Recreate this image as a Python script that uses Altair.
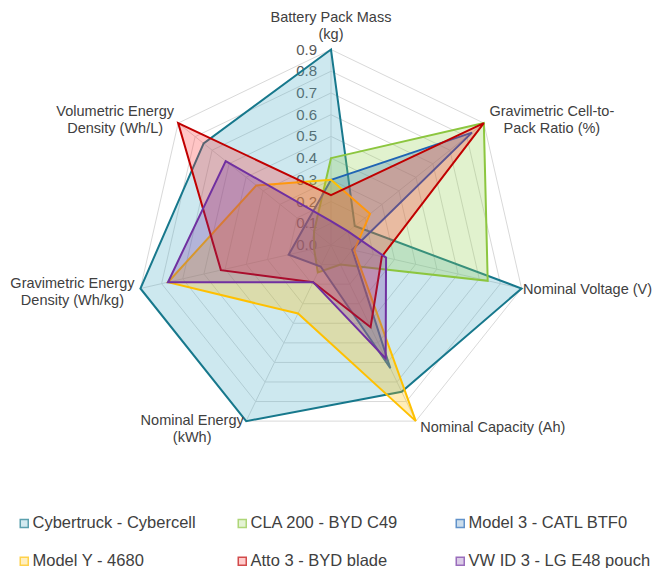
import altair as alt
import pandas as pd

# ---------------- data ----------------
axis_labels = [
    "Battery Pack Mass\n(kg)",
    "Gravimetric Cell-to-\nPack Ratio (%)",
    "Nominal Voltage (V)",
    "Nominal Capacity (Ah)",
    "Nominal Energy\n(kWh)",
    "Gravimetric Energy\nDensity (Wh/kg)",
    "Volumetric Energy\nDensity (Wh/L)",
]
series = [
    "Cybertruck - Cybercell",
    "CLA 200 - BYD C49",
    "Model 3 - CATL BTF0",
    "Model Y - 4680",
    "Atto 3 - BYD blade",
    "VW ID 3 - LG E48 pouch",
]
cybertruck = [0.90, 0.14, 0.90, 0.75, 0.90, 0.90, 0.75]
cla200 = [0.40, 0.90, 0.74, 0.10, 0.14, 0.08, 0.10]
model3 = [0.30, 0.83, 0.10, 0.63, 0.11, 0.20, 0.15]
modely = [0.30, 0.23, 0.11, 0.90, 0.35, 0.77, 0.44]
atto3 = [0.23, 0.90, 0.24, 0.42, 0.19, 0.52, 0.90]
vwid3 = [0.11, 0.10, 0.26, 0.58, 0.19, 0.77, 0.62]
ticks = [0.0, 0.1, 0.2, 0.3, 0.4, 0.5, 0.6, 0.7, 0.8, 0.9]

line_colors = ["#17788C", "#8CC63F", "#1F64B4", "#FFC000", "#C00000", "#7030A0"]
fill_colors = ["#4BACC6", "#92D050", "#2E75B6", "#FFC000", "#FF3030", "#7030A0"]
legend_fills = ["#C0E2EB", "#D9EFC2", "#B6CFE5", "#FFE9A6", "#FFB7B7", "#CDB7DE"]

# ---------------- tables ----------------
values = [cybertruck, cla200, model3, modely, atto3, vwid3]
n_axes = len(axis_labels)
rmax = max(ticks)

poly = pd.DataFrame(
    [{"series": s, "sidx": k, "idx": i, "value": v}
     for k, (s, vals) in enumerate(zip(series, values))
     for i, v in enumerate(vals)]
)
rings = pd.DataFrame(
    [{"ring": t, "idx": i} for t in ticks[1:] for i in range(n_axes)]
)
spokes = pd.DataFrame([{"idx": i, "label": lab} for i, lab in enumerate(axis_labels)])
tick_df = pd.DataFrame({"t": ticks})
legend_df = pd.DataFrame({"series": series})

# ---------------- layout ----------------
W, H = 645, 560
cx, cy = 323, 237          # centre in plot pixels
unit = 217.2               # pixels per 1.0
xs = alt.Scale(domain=[-cx / unit, (W - cx) / unit], nice=False, zero=False)
ys = alt.Scale(domain=[-(H - cy) / unit, cy / unit], nice=False, zero=False)
FONT = "Liberation Sans"
STEP = f"2*PI/{n_axes}"


def polar(chart, rfield):
    return chart.transform_calculate(
        theta=f"datum.idx*{STEP}"
    ).transform_calculate(
        x=f"{rfield}*sin(datum.theta)", y=f"{rfield}*cos(datum.theta)"
    )


X = alt.X("x:Q", scale=xs, axis=None)
Y = alt.Y("y:Q", scale=ys, axis=None)

grid = polar(alt.Chart(rings), "datum.ring").mark_line(
    interpolate="linear-closed", stroke="#D9D9D9", strokeWidth=1, fill=None
).encode(x=X, y=Y, detail="ring:N", order="idx:Q")

spoke = polar(alt.Chart(spokes), str(rmax)).transform_calculate(
    x0="0", y0="0"
).mark_rule(stroke="#D9D9D9", strokeWidth=1).encode(
    x=alt.X("x0:Q", scale=xs, axis=None), y=alt.Y("y0:Q", scale=ys, axis=None),
    x2="x:Q", y2="y:Q"
)

tick_text = alt.Chart(tick_df).transform_calculate(x0="0").mark_text(
    align="right", baseline="middle", dx=-14, font=FONT, fontSize=15, color="#595959"
).encode(
    x=alt.X("x0:Q", scale=xs, axis=None), y=alt.Y("t:Q", scale=ys, axis=None),
    text=alt.Text("t:Q", format=".1f")
)

polys = polar(alt.Chart(poly), "datum.value").mark_line(
    interpolate="linear-closed", strokeWidth=2, fillOpacity=0.28
).encode(
    x=X, y=Y,
    stroke=alt.Stroke("series:N", scale=alt.Scale(domain=series, range=line_colors),
                      legend=None),
    fill=alt.Fill("series:N", scale=alt.Scale(domain=series, range=fill_colors),
                  legend=None),
    order="idx:Q",
)

legend = alt.Legend(
    title=None, orient="none", legendX=8, legendY=507, columns=3,
    direction="horizontal",
    symbolType="square", symbolSize=64, symbolStrokeWidth=1.5,
    labelFont=FONT, labelFontSize=16.5, labelColor="#404040", labelLimit=400,
    labelOffset=0, columnPadding=19, rowPadding=21, gridAlign="all",
)

# legend only (no marks drawn)
legend_layer = alt.Chart(legend_df).transform_filter("false").mark_point(
    shape="square", filled=True, strokeWidth=1.5
).encode(
    stroke=alt.Stroke("series:N", scale=alt.Scale(domain=series, range=line_colors),
                      legend=legend, sort=series),
    fill=alt.Fill("series:N", scale=alt.Scale(domain=series, range=legend_fills),
                  legend=legend, sort=series),
)

# axis category labels: offset of each label block from its outer vertex
label_offsets = [(0, -32), (68, -11), (66, 2), (77, 7), (-54, 0), (-68, -4), (-63, -11)]
label_layers = []
for i, (dx, dy) in enumerate(label_offsets):
    label_layers.append(
        polar(alt.Chart(spokes), str(rmax)).transform_filter(f"datum.idx == {i}").mark_text(
            align="center", baseline="middle", lineBreak="\n", lineHeight=17,
            dx=dx, dy=dy, font=FONT, fontSize=14.5, color="#404040"
        ).encode(x=X, y=Y, text="label:N")
    )

chart = alt.layer(grid, spoke, tick_text, polys, *label_layers, legend_layer).resolve_scale(
    stroke="independent", fill="independent"
).resolve_legend(stroke="independent", fill="independent").properties(
    width=W, height=H, padding=0, autosize="none", background="white"
).configure_view(stroke=None)

chart.save("out.html", embed_options={"renderer": "svg", "actions": False})
